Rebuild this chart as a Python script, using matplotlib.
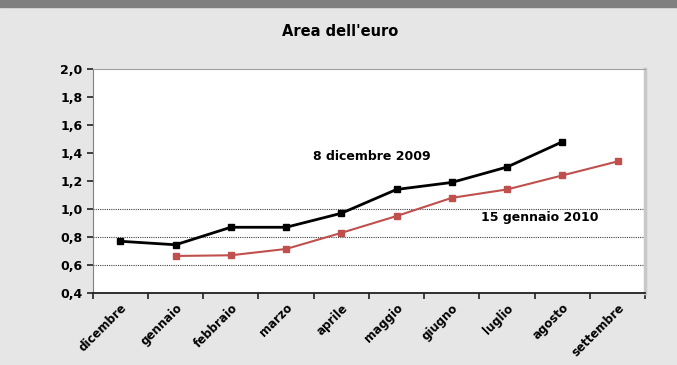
import numpy as np
import matplotlib.pyplot as plt
from matplotlib.ticker import FuncFormatter

# dati
mesi = ['dicembre', 'gennaio', 'febbraio', 'marzo', 'aprile', 'maggio',
        'giugno', 'luglio', 'agosto', 'settembre']
dic_2009 = [0.77, 0.745, 0.87, 0.87, 0.97, 1.14, 1.19, 1.30, 1.48]          # da dicembre ad agosto
gen_2010 = [0.665, 0.67, 0.715, 0.83, 0.95, 1.08, 1.14, 1.24, 1.34]       # da gennaio a settembre
y_ticks = [0.4, 0.6, 0.8, 1.0, 1.2, 1.4, 1.6, 1.8, 2.0]

fig = plt.figure(figsize=(6.77, 3.65), dpi=100, facecolor='#e6e6e6')
ax = fig.add_axes([0.137, 0.197, 0.816, 0.614])

# banda grigia in alto
fig.patches.append(plt.Rectangle((0, 1 - 7/365), 1, 7/365, transform=fig.transFigure,
                                 color='#808080', zorder=0))

x = np.arange(len(mesi))
ax.plot(x[:len(dic_2009)], dic_2009, color='black', lw=2, marker='s', ms=4, zorder=3)
ax.plot(x[1:1+len(gen_2010)], gen_2010, color='#c0504d', lw=1.5, marker='s', ms=4, zorder=3)

ax.set_xlim(-0.5, len(mesi) - 0.5)
ax.set_ylim(0.4, 2.0)
ax.set_yticks(y_ticks)
ax.yaxis.set_major_formatter(FuncFormatter(lambda v, p: ('%.1f' % v).replace('.', ',')))

# griglia solo a 0,6 - 0,8 - 1,0
for g in [0.6, 0.8, 1.0]:
    ax.axhline(g, color='#404040', lw=0.8, ls=(0, (1, 1)), zorder=1)

ax.set_xticks(x)
ax.set_xticklabels(mesi, rotation=45, ha='right', rotation_mode='anchor',
                   fontsize=8.5, fontweight='bold')
ax.set_xticks(np.arange(-0.5, len(mesi)), minor=True)
ax.tick_params(axis='x', which='major', length=0, pad=6)
ax.tick_params(axis='x', which='minor', length=4, width=1.2, color='#202020')
ax.tick_params(axis='y', length=4, width=1.2, color='#202020', labelsize=9)
for t in ax.get_yticklabels():
    t.set_fontweight('bold')

ax.spines['left'].set_color('#808080')
ax.spines['bottom'].set_color('#202020')
ax.spines['bottom'].set_linewidth(1.3)
ax.spines['top'].set_color('#a0a0a0')
ax.spines['right'].set_color('#c8c8c8')
ax.spines['right'].set_linewidth(2.5)

ax.text(4.55, 1.375, '8 dicembre 2009', fontsize=9, fontweight='bold', ha='center', va='center')
ax.text(7.6, 0.94, '15 gennaio 2010', fontsize=9, fontweight='bold', ha='center', va='center')

fig.text(0.502, 0.915, "Area dell'euro", fontsize=10.5, fontweight='bold', ha='center', va='center')

fig.savefig('out.png', dpi=100, facecolor=fig.get_facecolor())
